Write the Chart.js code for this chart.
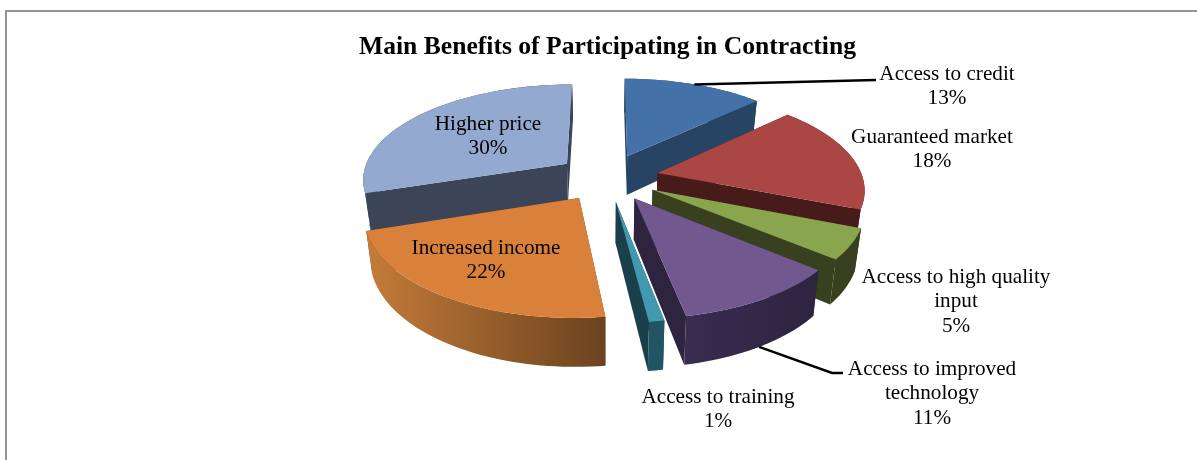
<!DOCTYPE html>
<html>
<head>
<meta charset="utf-8">
<title>Main Benefits of Participating in Contracting</title>
<script src="https://cdn.jsdelivr.net/npm/chart.js@4"></script>
<style>
  html, body { margin: 0; padding: 0; background: #fff; overflow: hidden; }
  #wrap { position: relative; width: 1197px; height: 460px; }
  #frame { position: absolute; left: 5px; top: 10px; right: 0; bottom: 0; border-left: 2px solid #939393; border-top: 2px solid #939393; }
  #pie { position: absolute; left: 0; top: 0; }
</style>
</head>
<body>
<div id="wrap">
  <div id="frame"></div>
  <canvas id="pie" width="1197" height="460"></canvas>
</div>
<script>
const chartTitle = 'Main Benefits of Participating in Contracting';
const categories = ['Access to credit', 'Guaranteed market', 'Access to high quality input', 'Access to improved technology', 'Access to training', 'Increased income', 'Higher price'];
const shares = [13, 18, 5, 11, 1, 22, 30];

// slice colours: top face, cut faces, outer rim (left to right)
const topColors = ['#4472a8', '#aa4643', '#89a54e', '#71588f', '#4198af', '#d9813b', '#93a9cf'];
const sideColors = ['#274464', '#471b19', '#38401f', '#2d2440', '#1b404c', '#6e4320', '#3c4557'];
const rimColors = [
  ['#274464', '#274464'], ['#471b19', '#471b19'], ['#38401f', '#38401f'], ['#392c50', '#2d2440'],
  ['#215562', '#215562'], ['#c27a38', '#6b421f'], ['#3c4557', '#3c4557']
];

// where the data labels sit, first line centre y and line breaks
const labelLines = [['Access to credit'], ['Guaranteed market'], ['Access to high quality', 'input'], ['Access to improved', 'technology'], ['Access to training'], ['Increased income'], ['Higher price']];
const labelAnchors = [[947, 74], [932, 137], [956, 277], [932, 369], [718, 397], [486, 248], [488, 124]];
// leader lines run from a slice's mid angle to these points
const leaders = { 0: { base: false, to: [[876, 80]] }, 3: { base: true, to: [[832, 373], [843, 373]] } };

// fake 3d camera
const PERSPECTIVE = 0.15, FOCAL = 205, TILT = 95, DEPTH = 40, BASE_SHRINK = 0.975;

function project(arc, wx, wy, onBase) {
  const w = 1 + PERSPECTIVE * wy;
  let sx = FOCAL * wx / w;
  let sy = -TILT * wy / w;
  if (onBase) {
    sx *= BASE_SHRINK;
    sy += DEPTH / w;
  }
  return [arc.x + sx, arc.y + sy];
}

// helpers reading the geometry from Chart.js' own arc elements
function apexOf(arc) {
  const mid = (arc.startAngle + arc.endAngle) / 2;
  const e = arc.options.offset / arc.outerRadius;
  return [Math.cos(mid) * e, -Math.sin(mid) * e];
}
function rimPoint(arc, angle) {
  const a = apexOf(arc);
  return [a[0] + Math.cos(angle), a[1] - Math.sin(angle)];
}
function rimAngles(arc, from, to) {
  const out = [];
  const n = Math.max(2, Math.ceil((to - from) / 0.03));
  for (let i = 0; i <= n; i++) out.push(from + (to - from) * i / n);
  return out;
}
function fillPoly(ctx, pts, style) {
  ctx.beginPath();
  pts.forEach((p, i) => (i ? ctx.lineTo(p[0], p[1]) : ctx.moveTo(p[0], p[1])));
  ctx.closePath();
  ctx.fillStyle = style;
  ctx.fill();
}
function rimBand(ctx, arc, from, to, style) {
  if (to <= from) return;
  const angles = rimAngles(arc, from, to);
  const top = angles.map(t => { const p = rimPoint(arc, t); return project(arc, p[0], p[1], false); });
  const base = angles.map(t => { const p = rimPoint(arc, t); return project(arc, p[0], p[1], true); }).reverse();
  fillPoly(ctx, top.concat(base), style);
}

const pie3d = {
  id: 'pie3d',
  beforeDatasetDraw(chart, args) {
    const ctx = chart.ctx;
    const arcs = args.meta.data;
    const order = arcs.map((a, i) => i).sort((a, b) => {
      const mid = arc => (arc.startAngle + arc.endAngle) / 2;
      return Math.sin(mid(arcs[a])) - Math.sin(mid(arcs[b]));
    });
    // the far slices go down first
    order.forEach(i => {
      const arc = arcs[i];
      const apex = apexOf(arc);
      const s = arc.startAngle, e = arc.endAngle;
      const side = sideColors[i];
      const apexTop = project(arc, apex[0], apex[1], false);
      const apexBase = project(arc, apex[0], apex[1], true);

      // rim is only visible on the near half (sin(angle) > 0 in canvas angles)
      const xs = rimAngles(arc, s, e).map(t => { const p = rimPoint(arc, t); return project(arc, p[0], p[1], true)[0]; });
      const grad = ctx.createLinearGradient(Math.min(...xs), 0, Math.max(...xs) + 1, 0);
      grad.addColorStop(0, rimColors[i][0]);
      grad.addColorStop(1, rimColors[i][1]);

      // far part of the rim
      [[s, Math.min(e, 0)], [Math.max(s, Math.PI), e]].forEach(r => rimBand(ctx, arc, r[0], r[1], grad));

      // the two cut faces
      [s, e].forEach(t => {
        const p = rimPoint(arc, t);
        fillPoly(ctx, [apexTop, project(arc, p[0], p[1], false), project(arc, p[0], p[1], true), apexBase], side);
      });

      // near part of the rim
      rimBand(ctx, arc, Math.max(s, 0), Math.min(e, Math.PI), grad);

      // top face
      const top = rimAngles(arc, s, e).map(t => { const p = rimPoint(arc, t); return project(arc, p[0], p[1], false); });
      fillPoly(ctx, [apexTop].concat(top), topColors[i]);
    });
    return false;
  },
  afterDraw(chart) {
    const ctx = chart.ctx;
    const arcs = chart.getDatasetMeta(0).data;

    ctx.strokeStyle = '#000';
    ctx.lineWidth = 2.5;
    Object.keys(leaders).forEach(k => {
      const arc = arcs[k];
      const p = rimPoint(arc, (arc.startAngle + arc.endAngle) / 2);
      const from = project(arc, p[0], p[1], leaders[k].base);
      ctx.beginPath();
      ctx.moveTo(from[0], from[1]);
      leaders[k].to.forEach(q => ctx.lineTo(q[0], q[1]));
      ctx.stroke();
    });

    ctx.fillStyle = '#000';
    ctx.font = '21.2px "Liberation Serif"';
    ctx.textAlign = 'center';
    ctx.textBaseline = 'middle';
    categories.forEach((c, i) => {
      const lines = labelLines[i].concat(shares[i] + '%');
      lines.forEach((line, j) => ctx.fillText(line, labelAnchors[i][0], labelAnchors[i][1] + j * 24.7));
    });
  }
};

new Chart(document.getElementById('pie'), {
  type: 'pie',
  data: {
    labels: categories,
    datasets: [{ data: shares, backgroundColor: topColors, borderWidth: 0, offset: 40 }]
  },
  options: {
    responsive: false,
    animation: false,
    radius: 160,
    layout: { padding: { left: 18, bottom: 168 } },
    plugins: {
      legend: { display: false },
      tooltip: { enabled: false },
      title: {
        display: true,
        text: chartTitle,
        color: '#000',
        font: { family: '"Liberation Serif"', size: 25.6, weight: 'bold' },
        padding: { top: 32, bottom: 0 }
      }
    }
  },
  plugins: [pie3d]
});
</script>
</body>
</html>
